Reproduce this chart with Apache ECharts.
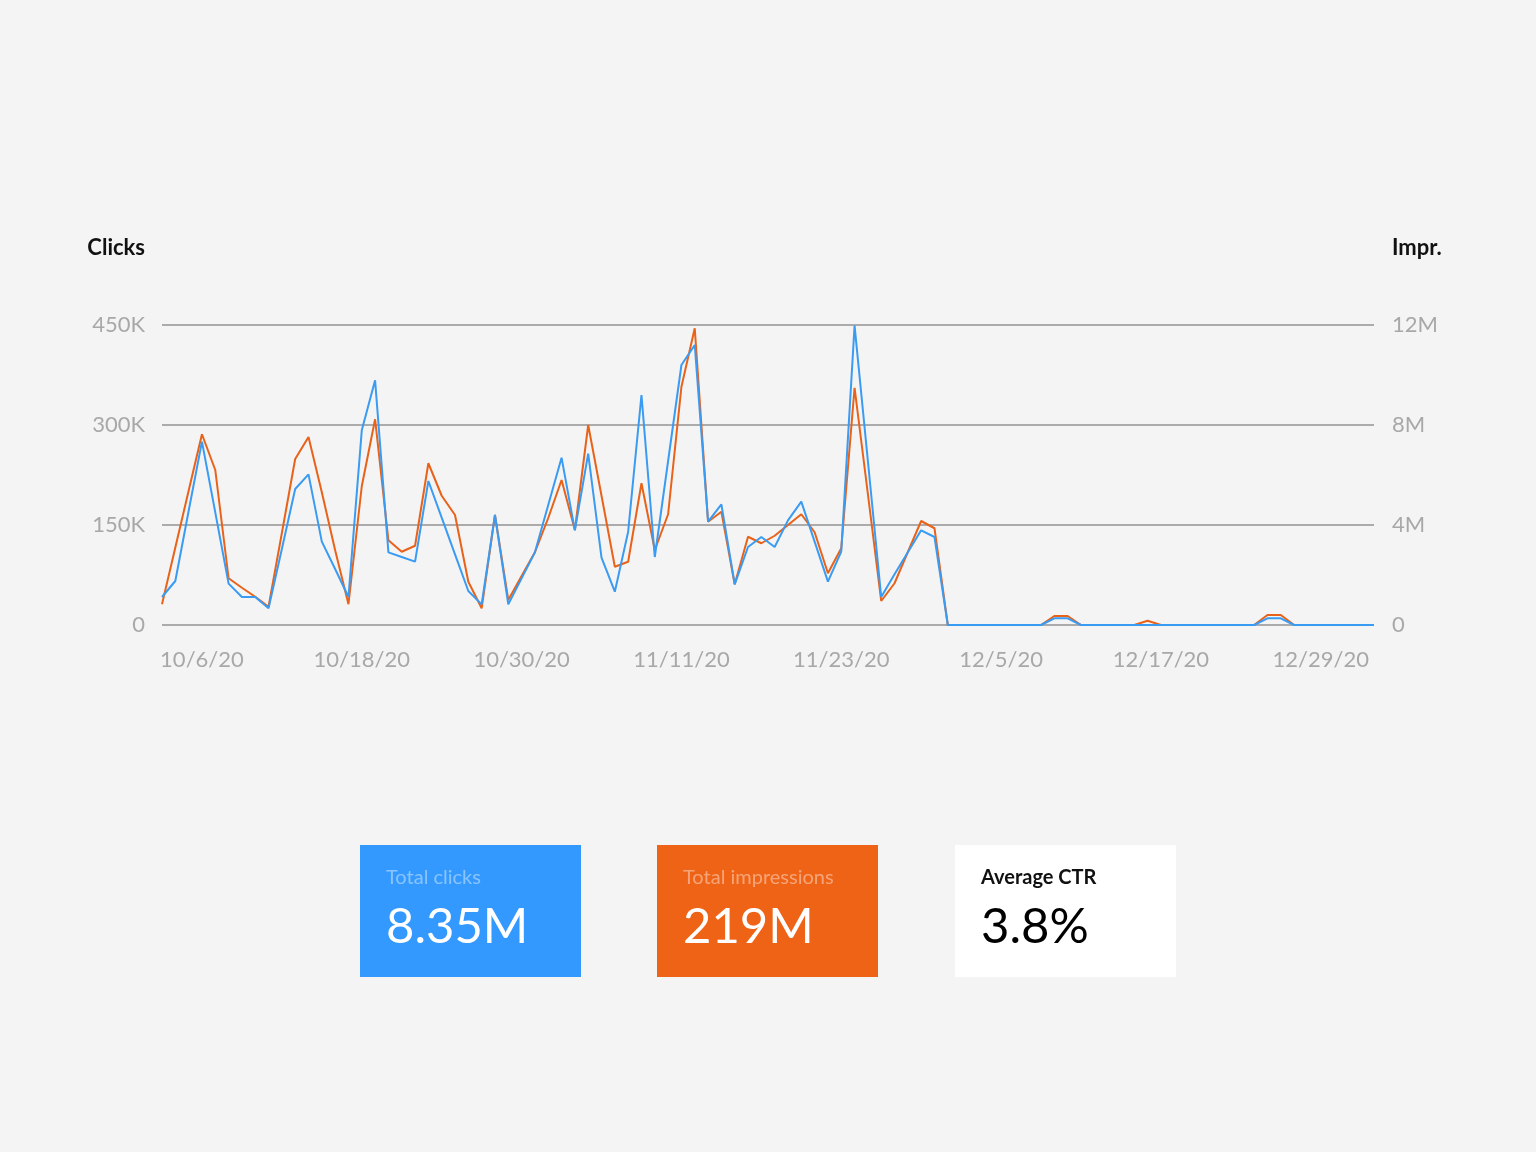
<!DOCTYPE html>
<html lang="en">
<head>
    <meta charset="UTF-8">
    <title>Clicks and impressions</title>
    <script src="https://cdn.jsdelivr.net/npm/echarts@6/dist/echarts.min.js"></script>
    <style>
        html, body { margin: 0; padding: 0; background: #f4f4f4; }
        #box { width: 1536px; height: 1152px; }
    </style>
</head>
<body>
    <div id="box"></div>
    <script>
        // daily dates, 10/3/20 .. 1/2/21
        var dates = [
            '10/3/20', '10/4/20', '10/5/20', '10/6/20', '10/7/20', '10/8/20', '10/9/20', '10/10/20', '10/11/20', '10/12/20',
            '10/13/20', '10/14/20', '10/15/20', '10/16/20', '10/17/20', '10/18/20', '10/19/20', '10/20/20', '10/21/20', '10/22/20',
            '10/23/20', '10/24/20', '10/25/20', '10/26/20', '10/27/20', '10/28/20', '10/29/20', '10/30/20', '10/31/20',
            '11/1/20', '11/2/20', '11/3/20', '11/4/20', '11/5/20', '11/6/20', '11/7/20', '11/8/20', '11/9/20', '11/10/20',
            '11/11/20', '11/12/20', '11/13/20', '11/14/20', '11/15/20', '11/16/20', '11/17/20', '11/18/20', '11/19/20', '11/20/20',
            '11/21/20', '11/22/20', '11/23/20', '11/24/20', '11/25/20', '11/26/20', '11/27/20', '11/28/20', '11/29/20', '11/30/20',
            '12/1/20', '12/2/20', '12/3/20', '12/4/20', '12/5/20', '12/6/20', '12/7/20', '12/8/20', '12/9/20', '12/10/20',
            '12/11/20', '12/12/20', '12/13/20', '12/14/20', '12/15/20', '12/16/20', '12/17/20', '12/18/20', '12/19/20', '12/20/20',
            '12/21/20', '12/22/20', '12/23/20', '12/24/20', '12/25/20', '12/26/20', '12/27/20', '12/28/20', '12/29/20', '12/30/20',
            '12/31/20', '1/1/21', '1/2/21'
        ];

        // clicks (left axis)
        var clicks = [
            42000, 66000, 171000, 275000, 169000, 62000, 42000, 42000, 25000, 114000,
            204000, 226000, 125000, 84000, 42000, 292000, 367000, 109000, 102000, 95000,
            216000, 161000, 106000, 51000, 31000, 165000, 31000, 70000, 109000,
            180000, 251000, 142000, 257000, 101000, 50000, 140000, 345000, 102000, 246000,
            390000, 420000, 155000, 181000, 61000, 117000, 132000, 117000, 157000, 185000,
            125000, 65000, 110000, 449000, 246000, 42000, 76000, 109000, 142000, 132000,
            0, 0, 0, 0, 0, 0, 0, 0, 10000, 10000,
            0, 0, 0, 0, 0, 0, 0, 0, 0, 0,
            0, 0, 0, 0, 10000, 10000, 0, 0, 0, 0,
            0, 0, 0
        ];

        // impressions (right axis)
        var impressions = [
            830000, 3100000, 5370000, 7630000, 6200000, 1870000, 1490000, 1130000, 730000, 3680000,
            6640000, 7520000, 5310000, 2990000, 830000, 5550000, 8230000, 3390000, 2930000, 3170000,
            6470000, 5170000, 4400000, 1730000, 670000, 4400000, 1000000, 1960000, 2910000,
            4280000, 5800000, 3800000, 8000000, 5170000, 2330000, 2530000, 5670000, 3000000, 4430000,
            9530000, 11870000, 4130000, 4530000, 1630000, 3530000, 3270000, 3570000, 4000000, 4430000,
            3710000, 2070000, 3070000, 9490000, 5240000, 960000, 1670000, 2920000, 4160000, 3870000,
            0, 0, 0, 0, 0, 0, 0, 0, 360000, 360000,
            0, 0, 0, 0, 0, 170000, 0, 0, 0, 0,
            0, 0, 0, 0, 400000, 400000, 0, 0, 0, 0,
            0, 0, 0
        ];

        var clickTicks = ['0', '150K', '300K', '450K'];
        var imprTicks = ['0', '4M', '8M', '12M'];

        // summary cards
        var cardTitles = ['Total clicks', 'Total impressions', 'Average CTR'];
        var cardValues = ['8.35M', '219M', '3.8%'];

        var FONT = 'Lato, "Noto Sans", sans-serif';
        var BLUE = '#3a9bf2';
        var ORANGE = '#e8621a';
        var axisLabelStyle = { color: '#a8a8a8', fontSize: 22, fontFamily: FONT };

        var myEcharts = echarts.init(document.getElementById('box'));

        // cards built as graphic elements below the chart
        var cardStyles = [
            { x: 360, fill: '#3399ff', sub: 'rgba(255,255,255,0.42)', main: '#ffffff', weight: 'normal' },
            { x: 657, fill: '#ef6316', sub: 'rgba(255,255,255,0.42)', main: '#ffffff', weight: 'normal' },
            { x: 955, fill: '#ffffff', sub: '#111111', main: '#000000', weight: 'bold' }
        ];
        var cards = [];
        cardStyles.forEach(function (c, i) {
            cards.push({ type: 'rect', left: c.x, top: 845, shape: { width: 221, height: 132 }, style: { fill: c.fill } });
            cards.push({ type: 'text', left: c.x + 26, top: 868, style: { text: cardTitles[i], fill: c.sub, font: c.weight + ' 20px ' + FONT } });
            cards.push({ type: 'text', left: c.x + 26, top: 903, style: { text: cardValues[i], fill: c.main, font: '49px ' + FONT } });
        });

        var option = {
            backgroundColor: '#f4f4f4',
            animation: false,
            grid: { left: 162, right: 162, top: 325, bottom: 527 },
            xAxis: {
                type: 'category',
                boundaryGap: false,
                data: dates,
                axisLine: { show: false },
                axisTick: { show: false },
                axisLabel: Object.assign({
                    margin: 24,
                    interval: function (index) { return (index - 3) % 12 === 0; }
                }, axisLabelStyle)
            },
            yAxis: [
                {
                    type: 'value', min: 0, max: 450000, interval: 150000,
                    name: 'Clicks', nameLocation: 'end', nameGap: 66,
                    nameTextStyle: { color: '#111', fontSize: 22, fontWeight: 'bold', fontFamily: FONT, align: 'right', padding: [0, 17, 0, 0] },
                    axisLine: { show: false }, axisTick: { show: false },
                    axisLabel: Object.assign({
                        margin: 17,
                        formatter: function (v) { return clickTicks[v / 150000]; }
                    }, axisLabelStyle),
                    splitLine: { lineStyle: { color: '#ababab', width: 2 } }
                },
                {
                    type: 'value', min: 0, max: 12000000, interval: 4000000,
                    name: 'Impr.', nameLocation: 'end', nameGap: 66,
                    nameTextStyle: { color: '#111', fontSize: 22, fontWeight: 'bold', fontFamily: FONT, align: 'left', padding: [0, 0, 0, 18] },
                    axisLine: { show: false }, axisTick: { show: false },
                    axisLabel: Object.assign({
                        margin: 18,
                        formatter: function (v) { return imprTicks[v / 4000000]; }
                    }, axisLabelStyle),
                    splitLine: { show: false }
                }
            ],
            series: [
                {
                    name: 'Impressions', type: 'line', yAxisIndex: 1,
                    data: impressions, symbol: 'none',
                    lineStyle: { color: ORANGE, width: 2 }
                },
                {
                    name: 'Clicks', type: 'line', yAxisIndex: 0,
                    data: clicks, symbol: 'none',
                    lineStyle: { color: BLUE, width: 2 }
                }
            ],
            graphic: cards
        };
        myEcharts.setOption(option);
    </script>
</body>
</html>
